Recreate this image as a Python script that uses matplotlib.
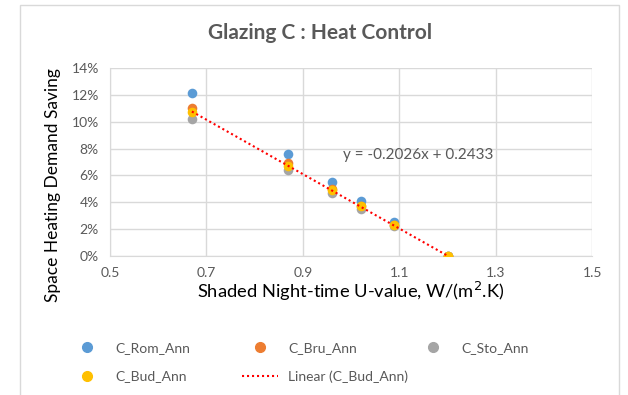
import numpy as np
import matplotlib.pyplot as plt
from matplotlib.lines import Line2D
from matplotlib.patches import Rectangle
from matplotlib.ticker import PercentFormatter

plt.rcParams['font.family'] = ['Lato', 'DejaVu Sans']

# U-values (x) and heating demand saving per city (y, fraction)
u_value = [0.67, 0.87, 0.96, 1.02, 1.09, 1.20]
rom = [0.121, 0.076, 0.055, 0.041, 0.025, 0.000]
bru = [0.110, 0.069, 0.050, 0.037, 0.023, 0.000]
sto = [0.102, 0.064, 0.047, 0.035, 0.022, 0.000]
bud = [0.107, 0.067, 0.049, 0.037, 0.023, 0.000]

series = {
    'C_Rom_Ann': (rom, '#5B9BD5'),
    'C_Bru_Ann': (bru, '#ED7D31'),
    'C_Sto_Ann': (sto, '#A5A5A5'),
    'C_Bud_Ann': (bud, '#FFC000'),
}

# trendline for Budapest as printed on the chart
slope = -0.2026
intercept = 0.2433

grey = '#595959'
grid = '#D9D9D9'

fig = plt.figure(figsize=(6.28, 3.95), dpi=100)
ax = fig.add_axes([0.175, 0.352, 0.768, 0.476])

# outer chart frame
fig.patches.append(Rectangle((20 / 628, -0.05), 599 / 628, 1 - 5 / 395 + 0.05,
                             transform=fig.transFigure, fill=False,
                             edgecolor=grid, lw=1))

handles = []
for name, (vals, col) in series.items():
    ax.scatter(u_value, vals, s=48, color=col, zorder=3, linewidths=0)
    handles.append(Line2D([], [], marker='o', ls='none', color=col, ms=7, label=name))

xs = np.array([u_value[0], u_value[-1]])
ax.plot(xs, slope * xs + intercept, color='red', lw=1.5, ls=(0, (1, 1.4)), zorder=4)
handles.append(Line2D([], [], color='red', lw=1.5, ls=(0, (1, 1.4)),
                      label='Linear (C_Bud_Ann)'))

ax.text(0.983, 0.0752, f'y = {slope}x + {intercept}', fontsize=11, color=grey,
        va='center', ha='left')

ax.set_xlim(0.5, 1.5)
ax.set_ylim(0, 0.14)
ax.set_xticks([0.5, 0.7, 0.9, 1.1, 1.3, 1.5])
ax.set_xticklabels(['0.5', '0.7', '0.9', '1.1', '1.3', '1.5'])
ax.set_yticks(np.arange(0, 0.141, 0.02))
ax.yaxis.set_major_formatter(PercentFormatter(1.0, decimals=0))
ax.tick_params(length=0, labelsize=10, labelcolor=grey, pad=8)
ax.grid(True, color=grid, lw=1)
ax.set_axisbelow(True)
for side in ['top', 'right']:
    ax.spines[side].set_visible(False)
for side in ['left', 'bottom']:
    ax.spines[side].set_color(grid)

fig.text(320 / 628, 1 - 33 / 395, 'Glazing C : Heat Control', fontsize=15,
         fontweight='bold', color=grey, ha='center', va='center')
fig.text(53 / 628, 1 - 185 / 395, 'Space Heating Demand Saving', fontsize=12.5,
         rotation=90, ha='center', va='center')
fig.text(351 / 628, 1 - 291 / 395, 'Shaded Night-time U-value, W/(m$^2$.K)',
         fontsize=13.2, ha='center', va='center')

# legend laid out as three columns
cols = [[handles[0], handles[3]], [handles[1], handles[4]], [handles[2]]]
for i, hs in enumerate(cols):
    fig.legend(handles=hs, loc='upper left',
               bbox_to_anchor=((69 + 173 * i) / 628, 1 - 342 / 395),
               frameon=False, fontsize=10, labelcolor=grey,
               handlelength=2.6, handletextpad=0.72, labelspacing=1.18,
               borderaxespad=0, borderpad=0)

plt.savefig('out.png')
